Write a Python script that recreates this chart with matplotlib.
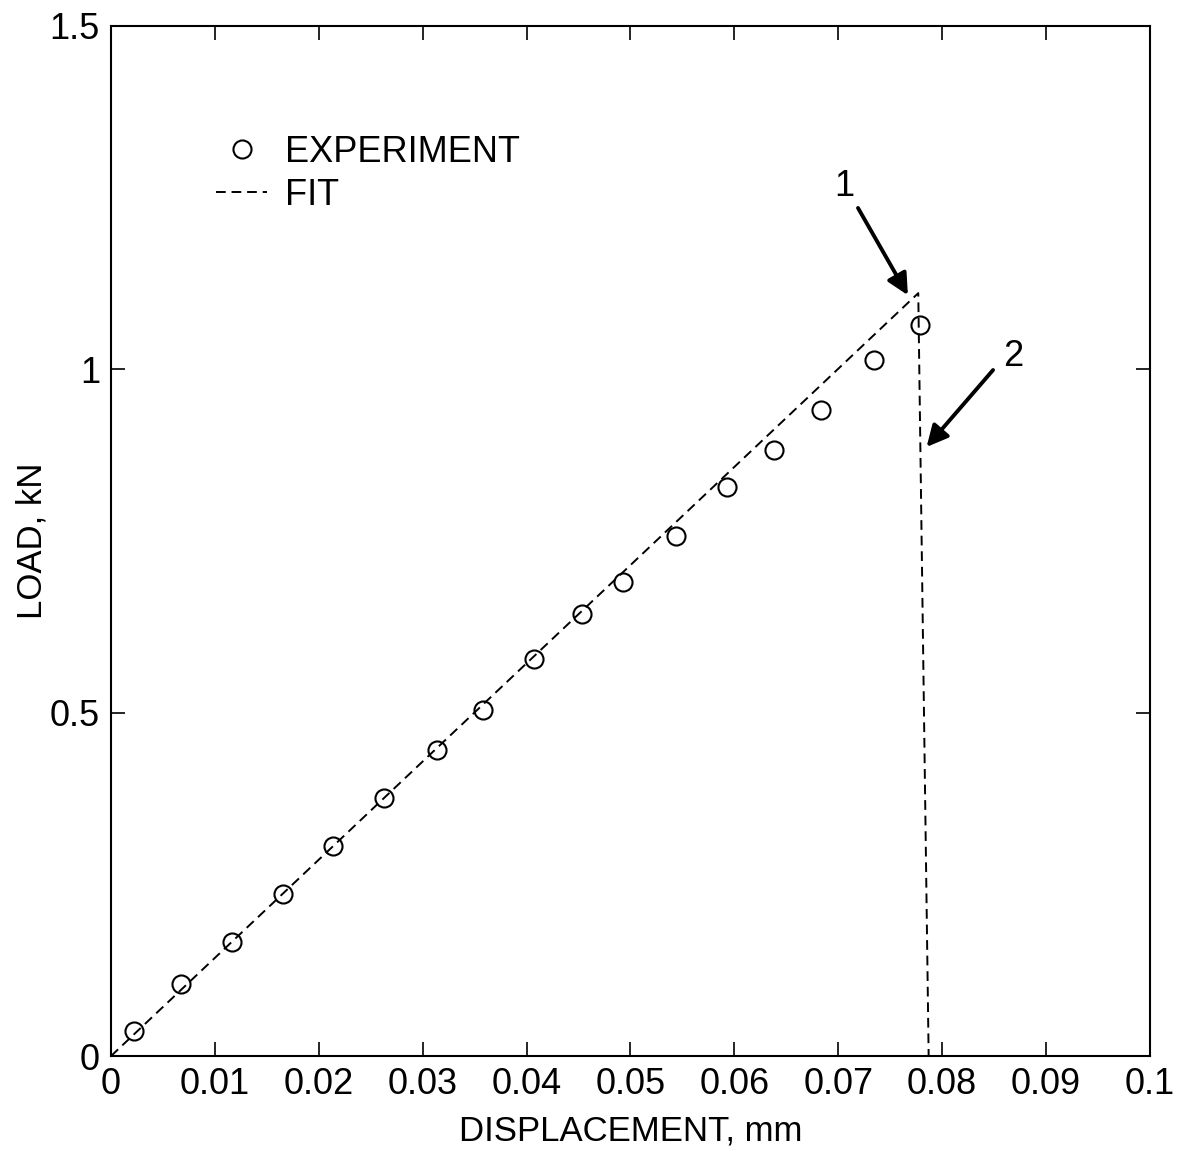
import matplotlib
matplotlib.use('Agg')
import matplotlib.pyplot as plt

plt.rcParams['font.family'] = ['Liberation Sans', 'DejaVu Sans']

# Dane eksperymentalne
exp_x = [0.0022, 0.0067, 0.0116, 0.0166, 0.0214, 0.0263, 0.0314, 0.0358,
         0.0407, 0.0453, 0.0493, 0.0544, 0.0593, 0.0638, 0.0683, 0.0734, 0.0779]
exp_y = [0.036, 0.105, 0.166, 0.236, 0.306, 0.376, 0.446, 0.504,
         0.578, 0.644, 0.690, 0.757, 0.829, 0.882, 0.941, 1.014, 1.065]

# Dopasowanie
fit_x = [0.0, 0.0777, 0.0787]
fit_y = [0.0, 1.111, 0.0]

x_ticks = [0, 0.01, 0.02, 0.03, 0.04, 0.05, 0.06, 0.07, 0.08, 0.09, 0.1]
x_labels = ['0', '0.01', '0.02', '0.03', '0.04', '0.05', '0.06', '0.07', '0.08', '0.09', '0.1']
y_ticks = [0, 0.5, 1, 1.5]
y_labels = ['0', '0.5', '1', '1.5']

fig = plt.figure(figsize=(11.86, 11.5), dpi=100)
ax = fig.add_axes([0.0936, 0.0817, 0.876, 0.8957])

ax.plot(exp_x, exp_y, linestyle='none', marker='o', markersize=13,
        markerfacecolor='none', markeredgecolor='black', markeredgewidth=1.5,
        label='EXPERIMENT')
ax.plot(fit_x, fit_y, color='black', linestyle=(0, (5, 3)), linewidth=1.4,
        label='FIT')

ax.set_xlim(0, 0.1)
ax.set_ylim(0, 1.5)
ax.set_xticks(x_ticks)
ax.set_xticklabels(x_labels)
ax.set_yticks(y_ticks)
ax.set_yticklabels(y_labels)
ax.tick_params(direction='in', length=10, width=1.2, labelsize=26,
               top=True, right=True, pad=8)
for s in ax.spines.values():
    s.set_linewidth(1.5)

ax.set_xlabel('DISPLACEMENT, mm', fontsize=25, labelpad=9)
ax.set_ylabel('LOAD, kN', fontsize=25, labelpad=1)

ax.legend(loc='upper left', bbox_to_anchor=(0.07, 0.926), frameon=False,
          fontsize=26, handlelength=1.4, handletextpad=0.5, labelspacing=0.23)

# Strzałki 1 i 2
arrow = dict(arrowstyle='-|>', color='black', lw=2.8,
             mutation_scale=32, shrinkA=0, shrinkB=0)
ax.text(0.0706, 1.266, '1', fontsize=26, ha='center', va='center')
ax.annotate('', xy=(0.0767, 1.108), xytext=(0.0719, 1.235), arrowprops=arrow)
ax.text(0.0868, 1.018, '2', fontsize=26, ha='center', va='center')
ax.annotate('', xy=(0.0785, 0.887), xytext=(0.0849, 0.999), arrowprops=arrow)

fig.savefig('out.png', dpi=100)
